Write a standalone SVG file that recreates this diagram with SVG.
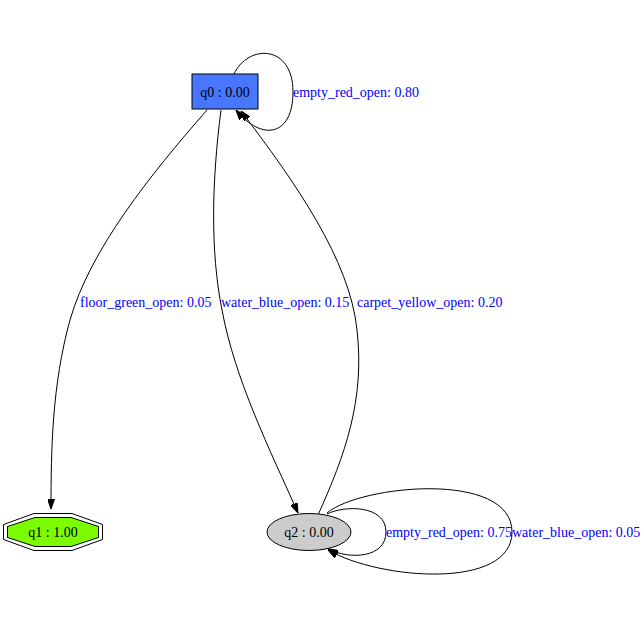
<svg xmlns="http://www.w3.org/2000/svg" width="644" height="643" viewBox="0 0 644 643">
<style>
text{font-family:"Liberation Serif","Times New Roman",serif;font-size:14px}
.n{text-anchor:middle;fill:#000}
.l{fill:#0000ff}
.e{fill:none;stroke:#000;stroke-width:1;marker-end:url(#ah)}
.s{stroke:#000;stroke-width:1}
</style>
<defs>
<marker id="ah" viewBox="0 0 10 7" refX="10" refY="3.5" markerWidth="10" markerHeight="7" markerUnits="userSpaceOnUse" orient="auto">
<polygon points="0,0 10,3.5 0,7" fill="#000" stroke="#000" stroke-width="1"/>
</marker>
</defs>
<rect width="644" height="643" fill="#fff"/>
<g id="edges">
<path class="e" d="M234,74 C248,44 293,44 293,92 C293,136 262,142 236,110"/>
<text class="l" x="293" y="97">empty_red_open: 0.80</text>
<path class="e" d="M207,110 C150,175 90,250 70,320 C52,385 51,450 51,509"/>
<text class="l" x="80" y="307">floor_green_open: 0.05</text>
<path class="e" d="M221,110 C212,180 210,250 222,310 C235,380 270,450 298,513"/>
<text class="l" x="221" y="307">water_blue_open: 0.15</text>
<path class="e" d="M318,515 C345,455 365,400 357,330 C350,260 295,182 241,111"/>
<text class="l" x="357" y="307">carpet_yellow_open: 0.20</text>
<path class="e" d="M327,514 C345,505 386,505 386,532 C386,558 350,560 328,549"/>
<text class="l" x="386" y="537">empty_red_open: 0.75</text>
<path class="e" d="M327,513 C360,485 512,470 512,532 C512,590 380,580 328,550"/>
<text class="l" x="512" y="537">water_blue_open: 0.05</text>
</g>
<g id="q0">
<rect class="s" x="192" y="74" width="66" height="35" fill="#4876ff"/>
<text class="n" x="225" y="96.5">q0 : 0.00</text>
</g>
<g id="q1">
<polygon class="s" fill="none" points="102.5,524.5 72,513.5 34,513.5 3.5,524.5 3.5,539.5 34,550.5 72,550.5 102.5,539.5"/>
<polygon class="s" fill="#7cfc00" points="98.5,526.5 71,517.5 35,517.5 7.5,526.5 7.5,537.5 35,546.5 71,546.5 98.5,537.5"/>
<text class="n" x="53" y="537">q1 : 1.00</text>
</g>
<g id="q2">
<ellipse class="s" cx="309" cy="532" rx="42" ry="18.5" fill="#cccccc"/>
<text class="n" x="309" y="537">q2 : 0.00</text>
</g>
</svg>
